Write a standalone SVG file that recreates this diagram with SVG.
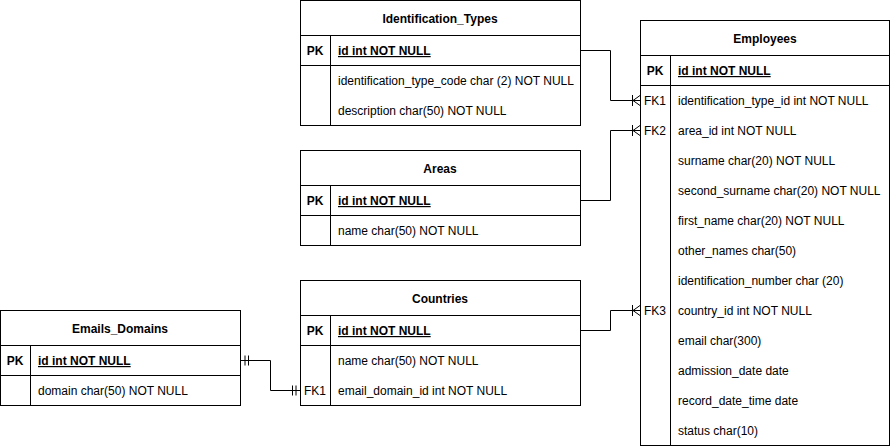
<svg xmlns="http://www.w3.org/2000/svg" width="891" height="446" viewBox="0 0 891 446">
<style>
.box{fill:#fff;stroke:#000;stroke-width:1}
.ln{stroke:#000;stroke-width:1;fill:none}
text{font-family:"Liberation Sans",Arial,Helvetica,sans-serif;font-size:12px;fill:#000}
.h{font-weight:bold;text-anchor:middle}
.k{font-weight:bold;text-anchor:middle}
.pk{font-weight:bold;text-decoration:underline}
.conn{stroke:#000;stroke-width:1;fill:none}
</style>
<defs>
<marker id="many" markerUnits="userSpaceOnUse" viewBox="-10 -7 12 14" markerWidth="12" markerHeight="14" refX="0" refY="0" orient="auto" overflow="visible">
<path d="M-7.5,-5.5 V5.5 M-7,0 L0,-5 M-7,0 L0,5 M-7,0 H0" stroke="#000" stroke-width="1" fill="none"/>
</marker>
<marker id="one" markerUnits="userSpaceOnUse" viewBox="-10 -7 12 14" markerWidth="12" markerHeight="14" refX="0" refY="0" orient="auto-start-reverse" overflow="visible">
<path d="M-4.5,-5 V5 M-8,-5 V5" stroke="#000" stroke-width="1" fill="none"/>
</marker>
</defs>
<rect width="891" height="446" fill="#fff"/>

<g id="connectors">
<path class="conn" d="M580.5,50.5 H610.5 V100.5 H640" marker-end="url(#many)"/>
<path class="conn" d="M580.5,200.5 H610.5 V130.5 H640" marker-end="url(#many)"/>
<path class="conn" d="M580.5,330.5 H610.5 V310.5 H640" marker-end="url(#many)"/>
<path class="conn" d="M240.5,360.5 H270.5 V390.5 H300.5" marker-start="url(#one)" marker-end="url(#one)"/>
</g>

<g id="Identification_Types">
<rect class="box" x="300.5" y="0.5" width="280" height="125"/>
<line class="ln" x1="300.5" y1="35.5" x2="580.5" y2="35.5"/>
<line class="ln" x1="300.5" y1="65.5" x2="580.5" y2="65.5"/>
<line class="ln" x1="330.5" y1="35.5" x2="330.5" y2="125.5"/>
<text class="h" x="440" y="23">Identification_Types</text>
<text class="k" x="315" y="55">PK</text>
<text class="pk" x="338" y="55">id int NOT NULL</text>
<text x="338" y="85">identification_type_code char (2) NOT NULL</text>
<text x="338" y="115">description char(50) NOT NULL</text>
</g>

<g id="Areas">
<rect class="box" x="300.5" y="150.5" width="280" height="95"/>
<line class="ln" x1="300.5" y1="185.5" x2="580.5" y2="185.5"/>
<line class="ln" x1="300.5" y1="215.5" x2="580.5" y2="215.5"/>
<line class="ln" x1="330.5" y1="185.5" x2="330.5" y2="245.5"/>
<text class="h" x="440" y="173">Areas</text>
<text class="k" x="315" y="205">PK</text>
<text class="pk" x="338" y="205">id int NOT NULL</text>
<text x="338" y="235">name char(50) NOT NULL</text>
</g>

<g id="Countries">
<rect class="box" x="300.5" y="280.5" width="280" height="125"/>
<line class="ln" x1="300.5" y1="315.5" x2="580.5" y2="315.5"/>
<line class="ln" x1="300.5" y1="345.5" x2="580.5" y2="345.5"/>
<line class="ln" x1="330.5" y1="315.5" x2="330.5" y2="405.5"/>
<text class="h" x="440" y="303">Countries</text>
<text class="k" x="315" y="335">PK</text>
<text class="pk" x="338" y="335">id int NOT NULL</text>
<text x="338" y="365">name char(50) NOT NULL</text>
<text x="315" y="395" text-anchor="middle">FK1</text>
<text x="338" y="395">email_domain_id int NOT NULL</text>
</g>

<g id="Emails_Domains">
<rect class="box" x="0.5" y="310.5" width="240" height="95"/>
<line class="ln" x1="0.5" y1="345.5" x2="240.5" y2="345.5"/>
<line class="ln" x1="0.5" y1="375.5" x2="240.5" y2="375.5"/>
<line class="ln" x1="30.5" y1="345.5" x2="30.5" y2="405.5"/>
<text class="h" x="120" y="333">Emails_Domains</text>
<text class="k" x="15" y="365">PK</text>
<text class="pk" x="38" y="365">id int NOT NULL</text>
<text x="38" y="395">domain char(50) NOT NULL</text>
</g>

<g id="Employees">
<rect class="box" x="640.5" y="20.5" width="249" height="425"/>
<line class="ln" x1="640.5" y1="55.5" x2="889.5" y2="55.5"/>
<line class="ln" x1="640.5" y1="85.5" x2="889.5" y2="85.5"/>
<line class="ln" x1="670.5" y1="55.5" x2="670.5" y2="445.5"/>
<text class="h" x="765" y="43">Employees</text>
<text class="k" x="655" y="75">PK</text>
<text class="pk" x="678" y="75">id int NOT NULL</text>
<text x="655" y="105" text-anchor="middle">FK1</text>
<text x="678" y="105">identification_type_id int NOT NULL</text>
<text x="655" y="135" text-anchor="middle">FK2</text>
<text x="678" y="135">area_id int NOT NULL</text>
<text x="678" y="165">surname char(20) NOT NULL</text>
<text x="678" y="195">second_surname char(20) NOT NULL</text>
<text x="678" y="225">first_name char(20) NOT NULL</text>
<text x="678" y="255">other_names char(50)</text>
<text x="678" y="285">identification_number char (20)</text>
<text x="655" y="315" text-anchor="middle">FK3</text>
<text x="678" y="315">country_id int NOT NULL</text>
<text x="678" y="345">email char(300)</text>
<text x="678" y="375">admission_date date</text>
<text x="678" y="405">record_date_time date</text>
<text x="678" y="435">status char(10)</text>
</g>
</svg>
